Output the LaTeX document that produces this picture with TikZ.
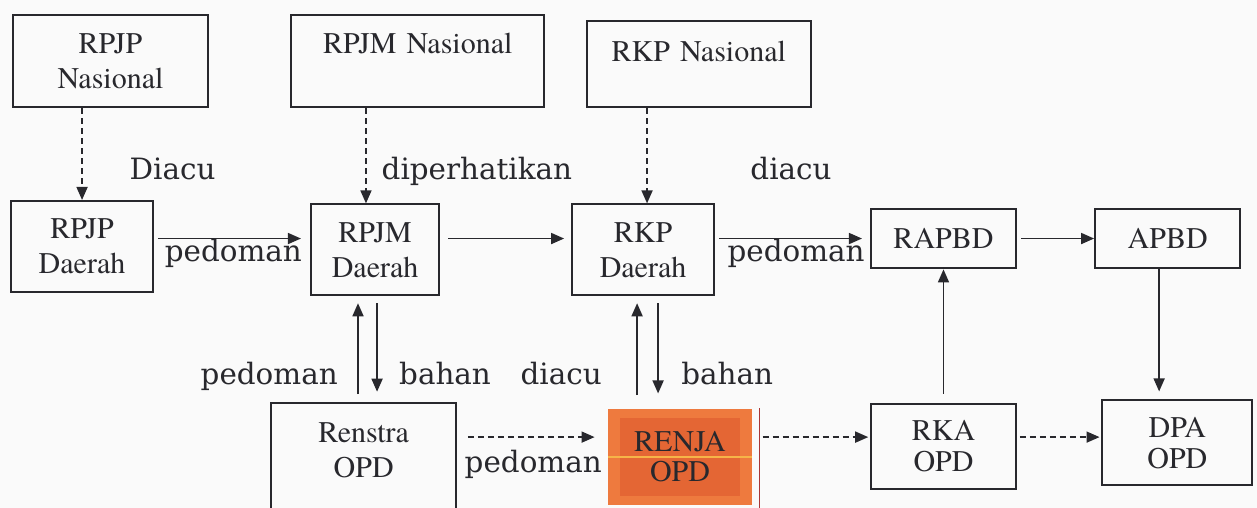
\documentclass[tikz,border=0pt]{standalone}
\usepackage{fontspec}
\setmainfont{TeX Gyre Termes}
\newfontfamily\ketfamily{DejaVu Serif}
\usetikzlibrary{arrows.meta}

\definecolor{ink}{RGB}{40,40,45}
\definecolor{bgpaper}{RGB}{250,250,250}
\definecolor{renjaouter}{RGB}{238,122,62}
\definecolor{renjainner}{RGB}{228,102,52}
\definecolor{renjayellow}{RGB}{246,180,72}
\definecolor{renjared}{RGB}{170,55,55}

\tikzstyle{pusat} = [rectangle, minimum width=3.43cm, minimum height=1.62cm, text centered, text width=3.6cm, inner sep=1pt, draw=ink, line width=1pt, fill=none, text=ink, font=\fontsize{15}{17.5}\selectfont]
\tikzstyle{daerah} = [rectangle, minimum width=2.5cm, minimum height=1.6cm, text centered, text width=2.2cm, inner sep=1pt, draw=ink, line width=1pt, fill=none, text=ink, font=\fontsize{15}{17.5}\selectfont]
\tikzstyle{anggaran} = [rectangle, minimum width=2.55cm, minimum height=1.05cm, text centered, text width=2.3cm, inner sep=1pt, draw=ink, line width=1pt, fill=none, text=ink, font=\fontsize{15}{17.5}\selectfont]
\tikzstyle{renstra} = [rectangle, minimum width=3.25cm, minimum height=1.92cm, text centered, text width=2.3cm, inner sep=1pt, draw=ink, line width=1pt, fill=none, text=ink, font=\fontsize{15}{17.5}\selectfont]
\tikzstyle{opd} = [rectangle, minimum width=2.55cm, minimum height=1.49cm, text centered, text width=2.3cm, inner sep=1pt, draw=ink, line width=1pt, fill=none, text=ink, font=\fontsize{15}{15.5}\selectfont]
\tikzstyle{renja} = [rectangle, minimum width=2.53cm, minimum height=1.7cm, text centered, text width=2.3cm, inner sep=1pt, fill=renjaouter, text=ink, font=\fontsize{15}{15}\selectfont,
    path picture={
        \fill [renjainner] ([shift={(0.21cm,-0.16cm)}]path picture bounding box.north west) rectangle ([shift={(-0.21cm,0.17cm)}]path picture bounding box.south east);
        \draw [renjayellow, line width=1.4pt] (path picture bounding box.west) -- (path picture bounding box.east);
    }]
\tikzstyle{ket} = [anchor=base, inner sep=0pt, text=ink, font=\ketfamily\fontsize{14.7}{17}\selectfont]
\tikzstyle{arrow} = [thick, draw=ink, ->, >={Triangle[length=6.5pt, width=5.5pt]}]
\tikzstyle{dasharrow} = [arrow, dash pattern=on 3pt off 2pt]

\begin{document}
\begin{tikzpicture}[node distance=3.3cm]
        \fill [bgpaper] (-1.942,1.072) rectangle (20.150,-7.856);
        \useasboundingbox (-1.942,1.072) rectangle (20.150,-7.856);

        \node (RPJP Nasional) [pusat, text width=3.2cm] {RPJP\\ Nasional};
        \node (RPJP Daerah) [daerah, below of = RPJP Nasional, xshift=-0.5cm, yshift=0.04cm] {RPJP\\ Daerah};
        \node (RPJM Daerah) [daerah, minimum width=2.25cm, text width=2cm, right of = RPJP Daerah, xshift=1.85cm, yshift=-0.06cm] {RPJM\\ Daerah};
        \node (RPJM Nasional) [pusat, minimum width=4.45cm, above of = RPJM Daerah, xshift=0.75cm, yshift=0.02cm] {RPJM Nasional\\ \mbox{}};
        \node (RKP Daerah) [daerah, right of = RPJM Daerah, xshift=1.41cm] {RKP\\ Daerah};
        \node (RKP Nasional) [pusat, minimum width=3.94cm, minimum height=1.51cm, above of = RKP Daerah, xshift=0.98cm, yshift=-0.04cm] {RKP Nasional\\[-4pt] \mbox{}};
        \node (RAPBD) [anggaran, right of = RKP Daerah, xshift=1.98cm, yshift=0.2cm] {RAPBD};
        \node (APBD) [anggaran, right of = RAPBD, xshift=0.64cm] {APBD};
        \node (Renstra OPD) [renstra, below of = RPJM Daerah, xshift=-0.2cm, yshift=-0.35cm] {Renstra\\ OPD\\[-9.5pt] \mbox{}};
        \node (RENJA OPD) [renja, below of = RKP Daerah, xshift=0.65cm, yshift=-0.34cm] {RENJA\\ OPD};
        \node (RKA OPD) [opd, below of = RAPBD, yshift=-0.35cm] {RKA\\ OPD};
        \node (DPA OPD) [opd, minimum width=2.64cm, below of = APBD, xshift=0.17cm, yshift=-0.29cm] {DPA\\ OPD};
        \draw [renjared, line width=0.7pt] ([xshift=0.12cm]RENJA OPD.north east) -- ([xshift=0.12cm, yshift=-0.2cm]RENJA OPD.south east);

        \node (ket Diacu) [ket] at (1.09,-2.09) {Diacu};
        \node (ket diperhatikan) [ket] at (6.44,-2.09) {diperhatikan};
        \node (ket diacu) [ket] at (11.96,-2.09) {diacu};
        \node (ket pedoman a) [ket] at (2.16,-3.53) {pedoman};
        \node (ket pedoman b) [ket] at (12.05,-3.53) {pedoman};
        \node (ket pedoman c) [ket] at (2.79,-5.69) {pedoman};
        \node (ket bahan a) [ket] at (5.88,-5.69) {bahan};
        \node (ket diacu b) [ket] at (7.92,-5.69) {diacu};
        \node (ket bahan b) [ket] at (10.84,-5.69) {bahan};
        \node (ket pedoman d) [ket] at (7.43,-7.24) {pedoman};

        \coordinate (rpjm turun) at ([xshift=-0.16cm]RPJM Daerah.north);
        \coordinate (rkp turun) at ([xshift=0.07cm]RKP Daerah.north);
        \coordinate (rpjm naik) at ([xshift=-0.30cm]RPJM Daerah.south);
        \coordinate (rpjm bahan) at ([xshift=0.035cm]RPJM Daerah.south);
        \coordinate (rkp naik) at ([xshift=-0.105cm]RKP Daerah.south);
        \coordinate (rkp bahan) at ([xshift=0.264cm]RKP Daerah.south);
        \coordinate (apbd bawah) at ([xshift=-0.15cm]APBD.south);
        \coordinate (baris tiga) at ([yshift=0.16cm]RKA OPD.west);

        \draw [dasharrow] (RPJP Nasional.south -| RPJP Daerah.north) -- (RPJP Daerah.north);
        \draw [dasharrow] (RPJM Nasional.south -| rpjm turun) -- (rpjm turun);
        \draw [dasharrow] (RKP Nasional.south -| rkp turun) -- (rkp turun);
        \draw [arrow, shorten <=0.07cm, shorten >=0.16cm] (RPJP Daerah.east |- RAPBD.west) -- (RPJM Daerah.west |- RAPBD.west);
        \draw [arrow, shorten <=0.14cm, shorten >=0.12cm] (RPJM Daerah.east |- RAPBD.west) -- (RKP Daerah.west |- RAPBD.west);
        \draw [arrow, shorten <=0.07cm, shorten >=0.14cm] (RKP Daerah.east |- RAPBD.west) -- (RAPBD.west);
        \draw [arrow, shorten <=0.07cm] (RAPBD.east) -- (APBD.west);
        \draw [arrow, shorten >=0.14cm] (apbd bawah) -- (apbd bawah |- DPA OPD.north);
        \draw [arrow, shorten <=0.16cm] (RKA OPD.north) -- (RKA OPD.north |- RAPBD.south);
        \draw [arrow, shorten <=0.14cm, shorten >=0.12cm] (rpjm naik |- Renstra OPD.north) -- (rpjm naik);
        \draw [arrow, shorten <=0.12cm, shorten >=0.18cm] (rpjm bahan) -- (rpjm bahan |- Renstra OPD.north);
        \draw [arrow, shorten <=0.23cm, shorten >=0.12cm] (rkp naik |- RENJA OPD.north) -- (rkp naik);
        \draw [arrow, shorten <=0.12cm, shorten >=0.26cm] (rkp bahan) -- (rkp bahan |- RENJA OPD.north);
        \draw [dasharrow, shorten <=0.19cm, shorten >=0.23cm] (Renstra OPD.east |- baris tiga) -- (RENJA OPD.west |- baris tiga);
        \draw [dasharrow, shorten <=0.18cm, shorten >=0.03cm] (RENJA OPD.east |- baris tiga) -- (baris tiga);
        \draw [dasharrow, shorten <=0.05cm, shorten >=0.03cm] (RKA OPD.east |- baris tiga) -- (DPA OPD.west |- baris tiga);
    \end{tikzpicture}
\end{document}
